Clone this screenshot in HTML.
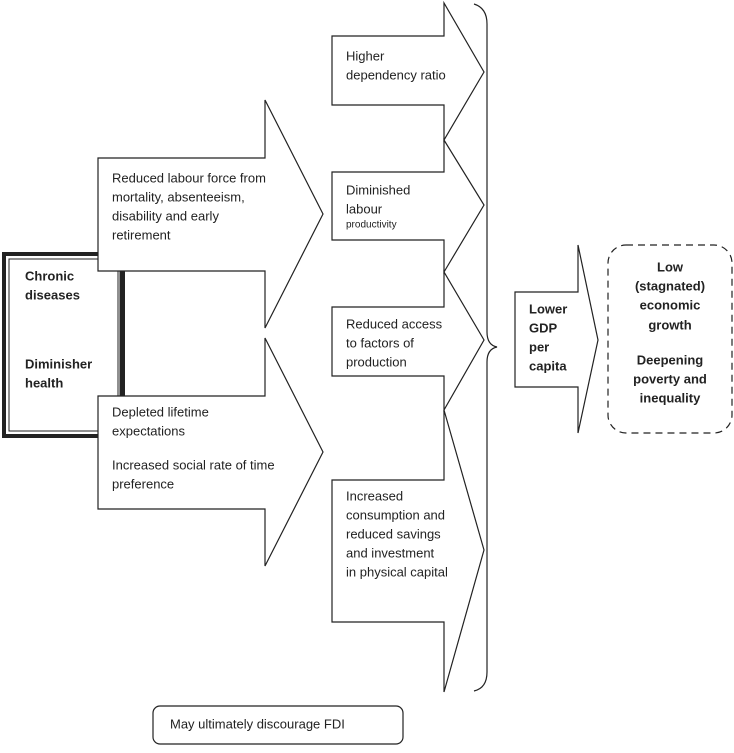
<!DOCTYPE html>
<html><head><meta charset="utf-8"><style>
html,body{margin:0;padding:0;background:#fff;}
svg text{font-family:"Liberation Sans",sans-serif;font-size:13px;fill:#222;dominant-baseline:middle;}
</style></head><body>
<svg width="734" height="748" viewBox="0 0 734 748" xmlns="http://www.w3.org/2000/svg">
<g fill="#fff" stroke="#222" stroke-width="1.2">
<rect x="4" y="254" width="119" height="182" fill="#fff" stroke="#222" stroke-width="4"/>
<rect x="9" y="259" width="109" height="172" fill="none" stroke="#222" stroke-width="1"/>
<line x1="122" y1="254" x2="122" y2="436" stroke-width="5"/>
<polygon points="98,158 265,158 265,100 323,214 265,328 265,271 98,271"/>
<polygon points="98,396 265,396 265,338 323,452 265,566 265,509 98,509"/>
<polygon points="332,36 444,36 444,3 484,72 444,140 444,105 332,105"/>
<polygon points="332,172 444,172 444,140 484,205 444,272 444,240 332,240"/>
<polygon points="332,307 444,307 444,272 484,340 444,410 444,376 332,376"/>
<polygon points="332,480 444,480 444,410 484,550 444,692 444,622 332,622"/>
<path d="M474,4 Q487,8 487,24 L487,332 Q487,345 497,347 Q487,349 487,362 L487,672 Q487,688 474,691" fill="none"/>
<polygon points="515,292 578,292 578,245 598,340 578,433 578,387 515,387"/>
<rect x="608" y="245" width="124" height="188" rx="18" ry="18" stroke-dasharray="7,5"/>
<rect x="153" y="706" width="250" height="38" rx="7" ry="7"/>
</g>
<text x="112" y="179">Reduced labour force from</text>
<text x="112" y="198">mortality, absenteeism,</text>
<text x="112" y="217">disability and early</text>
<text x="112" y="236">retirement</text>
<text x="112" y="413">Depleted lifetime</text>
<text x="112" y="432">expectations</text>
<text x="112" y="466">Increased social rate of time</text>
<text x="112" y="485">preference</text>
<text x="25" y="277" font-weight="bold">Chronic</text>
<text x="25" y="296" font-weight="bold">diseases</text>
<text x="25" y="365" font-weight="bold">Diminisher</text>
<text x="25" y="384" font-weight="bold">health</text>
<text x="346" y="57">Higher</text>
<text x="346" y="76">dependency ratio</text>
<text x="346" y="191">Diminished</text>
<text x="346" y="210">labour</text>
<text x="346" y="225" style="font-size:10px">productivity</text>
<text x="346" y="325">Reduced access</text>
<text x="346" y="344">to factors of</text>
<text x="346" y="363">production</text>
<text x="346" y="497">Increased</text>
<text x="346" y="516">consumption and</text>
<text x="346" y="535">reduced savings</text>
<text x="346" y="554">and investment</text>
<text x="346" y="573">in physical capital</text>
<text x="529" y="310" font-weight="bold">Lower</text>
<text x="529" y="329" font-weight="bold">GDP</text>
<text x="529" y="348" font-weight="bold">per</text>
<text x="529" y="367" font-weight="bold">capita</text>
<g text-anchor="middle" font-weight="bold">
<text x="670" y="268">Low</text>
<text x="670" y="287">(stagnated)</text>
<text x="670" y="306">economic</text>
<text x="670" y="326">growth</text>
<text x="670" y="361">Deepening</text>
<text x="670" y="380">poverty and</text>
<text x="670" y="399">inequality</text>
</g>
<text x="170" y="725">May ultimately discourage FDI</text>
</svg>
</body></html>
